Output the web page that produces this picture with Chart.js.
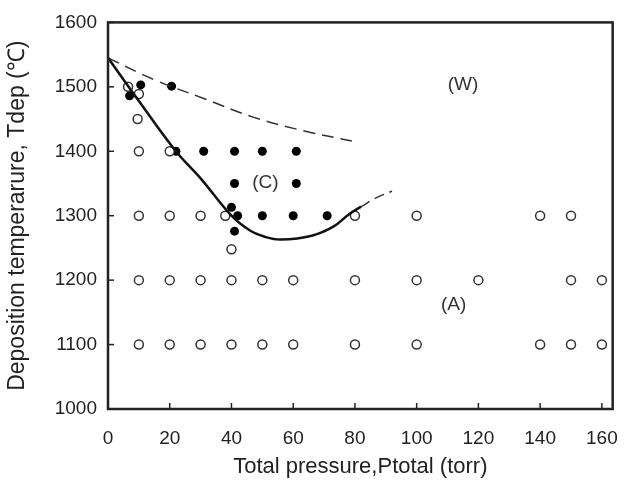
<!DOCTYPE html>
<html>
<head>
<meta charset="utf-8">
<script src="https://cdn.jsdelivr.net/npm/chart.js@4.4.1/dist/chart.umd.min.js"></script>
<style>
  html, body { margin: 0; padding: 0; background: #fff; }
  #wrap { width: 628px; height: 484px; }
</style>
</head>
<body>
<div id="wrap"><canvas id="phaseChart" width="628" height="484"></canvas></div>
<script>
// open circles (A)
var openX = [10, 20, 30, 40, 50, 60, 80, 100, 140, 150, 160,
             10, 20, 30, 40, 50, 60, 80, 100, 120, 150, 160,
             10, 20, 30, 38, 80, 100, 140, 150,
             10, 20, 6.5, 10, 9.6, 40];
var openY = [1100, 1100, 1100, 1100, 1100, 1100, 1100, 1100, 1100, 1100, 1100,
             1200, 1200, 1200, 1200, 1200, 1200, 1200, 1200, 1200, 1200, 1200,
             1300, 1300, 1300, 1300, 1300, 1300, 1300, 1300,
             1400, 1400, 1500, 1489, 1450, 1248];
// filled circles (C)
var solidX = [22, 31, 41, 50, 61, 41, 61, 42, 50, 60, 71, 40, 41, 10.6, 20.6, 7];
var solidY = [1400, 1400, 1400, 1400, 1400, 1350, 1350, 1300, 1300, 1300, 1300, 1313, 1276, 1503, 1501, 1486];
// boundaries
var lowerX = [0, 10, 22, 30, 40, 46, 51, 56, 66, 73, 78, 82];
var lowerY = [1545, 1478, 1400, 1358, 1300, 1277, 1267, 1263, 1269, 1283, 1302, 1314];
var extX = [82, 87, 92];
var extY = [1314, 1328, 1338];
var upperX = [0, 15, 31, 47, 64, 79];
var upperY = [1545, 1511, 1482, 1453, 1431, 1416];
// region labels
var regionText = ['(W)', '(C)', '(A)'];
var regionX = [115, 51, 112];
var regionY = [1503, 1351, 1161];

function pts(xs, ys) {
    return xs.map(function (x, i) { return { x: x, y: ys[i] }; });
}

var framePlugin = {
    id: 'frame',
    afterDatasetsDraw: function (chart) {
        var c = chart.ctx, a = chart.chartArea;
        var xs = chart.scales.x, ys = chart.scales.y;
        c.save();
        c.strokeStyle = '#222';
        c.lineWidth = 1.5;
        // inward ticks
        xs.ticks.forEach(function (t) {
            var px = xs.getPixelForValue(t.value);
            c.beginPath(); c.moveTo(px, a.bottom); c.lineTo(px, a.bottom - 6); c.stroke();
        });
        ys.ticks.forEach(function (t) {
            var py = ys.getPixelForValue(t.value);
            c.beginPath(); c.moveTo(a.left, py); c.lineTo(a.left + 6, py); c.stroke();
        });
        c.lineWidth = 2.5;
        c.strokeRect(a.left, a.top, a.right - a.left, a.bottom - a.top);
        // region labels
        c.fillStyle = '#333';
        c.font = '19px "Liberation Sans", Arial, sans-serif';
        c.textAlign = 'center';
        c.textBaseline = 'middle';
        regionText.forEach(function (t, i) {
            c.fillText(t, xs.getPixelForValue(regionX[i]), ys.getPixelForValue(regionY[i]));
        });
        c.restore();
    }
};

var tickFont = { family: '"Liberation Sans", Arial, sans-serif', size: 19 };
var titleFont = { family: '"Liberation Sans", Arial, sans-serif', size: 22 };
var yTitleFont = { family: '"Liberation Sans", Arial, sans-serif', size: 23 };

new Chart(document.getElementById('phaseChart').getContext('2d'), {
    type: 'scatter',
    data: {
        datasets: [
            {
                label: 'lower', data: pts(lowerX, lowerY), showLine: true,
                borderColor: '#111', borderWidth: 2.5, pointRadius: 0, tension: 0.4, fill: false
            },
            {
                label: 'ext', data: pts(extX, extY), showLine: true,
                borderColor: '#333', borderWidth: 1.5, borderDash: [10, 6], pointRadius: 0, tension: 0.4
            },
            {
                label: 'upper', data: pts(upperX, upperY), showLine: true,
                borderColor: '#333', borderWidth: 1.5, borderDash: [12, 7], pointRadius: 0, tension: 0.4
            },
            {
                label: 'A', data: pts(openX, openY),
                pointRadius: 4.5, pointBorderWidth: 1.5,
                borderColor: '#333', backgroundColor: '#fff'
            },
            {
                label: 'C', data: pts(solidX, solidY),
                pointRadius: 4.5, pointBorderWidth: 0,
                borderColor: '#000', backgroundColor: '#000'
            }
        ]
    },
    options: {
        responsive: false,
        animation: false,
        layout: { padding: { top: 14, right: 13, left: 0, bottom: 0 } },
        plugins: {
            legend: { display: false },
            tooltip: { enabled: false }
        },
        scales: {
            x: {
                type: 'linear', min: 0, max: 163.5,
                grid: { display: false },
                border: { display: false },
                ticks: {
                    stepSize: 20, includeBounds: false, color: '#222', font: tickFont, padding: 10, maxRotation: 0,
                    callback: function (v) { return String(v); }
                },
                title: { display: true, text: 'Total pressure,Ptotal (torr)', color: '#222', font: titleFont, padding: { top: 2 } },
                afterFit: function (s) { s.height = 75; }
            },
            y: {
                type: 'linear', min: 1000, max: 1600,
                grid: { display: false, drawTicks: false },
                border: { display: false },
                ticks: {
                    stepSize: 100, color: '#222', font: tickFont, padding: 11,
                    callback: function (v) { return String(v); }
                },
                title: { display: true, text: 'Deposition temperarure, Tdep (℃)', color: '#222', font: yTitleFont, padding: { top: 4, bottom: 0 } },
                afterFit: function (s) { s.width = 108; }
            }
        }
    },
    plugins: [framePlugin]
});
</script>
</body>
</html>
